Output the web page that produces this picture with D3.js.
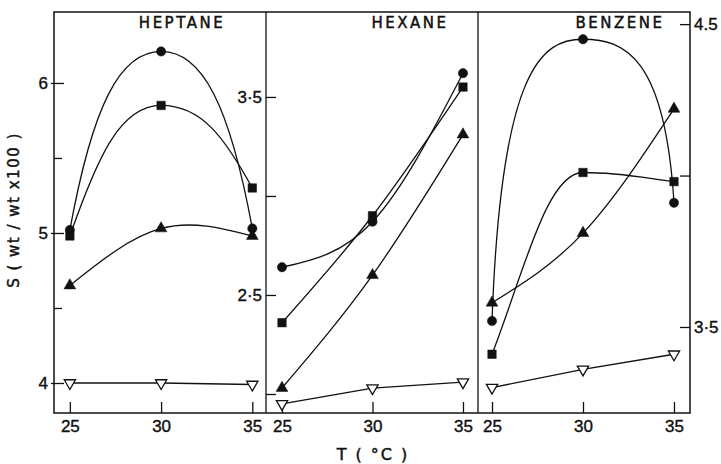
<!DOCTYPE html>
<html>
<head>
<meta charset="utf-8">
<script src="https://cdn.jsdelivr.net/npm/d3@7"></script>
<style>
  body { margin: 0; background: #fff; }
  svg { font-family: "DejaVu Sans", sans-serif; }
  .tick text { font-size: 17px; fill: #111; stroke: #111; stroke-width: 0.4; }
  .tick line { stroke: #111; stroke-width: 1.3; }
  .lbl { fill: #111; stroke: #111; stroke-width: 0.45; }
</style>
</head>
<body>
<svg width="721" height="464"></svg>
<script>
const svg = d3.select('svg');

// temperatures (°C)
const temps = [25, 30, 35];

// S (wt/wt x100)
const heptaneCircle = [5.02, 6.21, 5.03];
const heptaneSquare = [4.98, 5.85, 5.30];
const heptaneTriangle = [4.65, 5.03, 4.98];
const heptaneOpen = [4.00, 4.00, 3.99];

const hexaneCircle = [2.64, 2.87, 3.62];
const hexaneSquare = [2.36, 2.90, 3.55];
const hexaneTriangle = [2.03, 2.60, 3.31];
const hexaneOpen = [1.95, 2.03, 2.06];

const benzeneCircle = [3.52, 4.45, 3.91];
const benzeneSquare = [3.41, 4.01, 3.98];
const benzeneTriangle = [3.58, 3.81, 4.22];
const benzeneOpen = [3.30, 3.36, 3.41];

const xTicks = [25, 30, 35];

const plotTop = 12, plotBottom = 413;

// hand drawn looking curve: steep ends, flat at the extremum
function handCurve(a, b, flat) {
  return function(context) {
    let pts;
    function handle(i, dir, dx, dy) {
      const p = pts[i], n = pts.length;
      if (i === 0 || i === n - 1) return [p[0] + dir * dx * a, p[1] + dir * dy * b];
      const prev = pts[i - 1], next = pts[i + 1];
      if ((prev[1] - p[1]) * (next[1] - p[1]) > 0) return [p[0] + dir * Math.abs(dx) * flat, p[1]];
      return [p[0] + dir * (next[0] - prev[0]) / 6, p[1] + dir * (next[1] - prev[1]) / 6];
    }
    return {
      areaStart() {}, areaEnd() {},
      lineStart() { pts = []; },
      point(x, y) { pts.push([+x, +y]); },
      lineEnd() {
        if (!pts.length) return;
        context.moveTo(pts[0][0], pts[0][1]);
        for (let i = 0; i < pts.length - 1; i++) {
          const p = pts[i], q = pts[i + 1];
          const dx = q[0] - p[0], dy = q[1] - p[1];
          const c1 = handle(i, 1, dx, dy), c2 = handle(i + 1, -1, dx, dy);
          context.bezierCurveTo(c1[0], c1[1], c2[0], c2[1], q[0], q[1]);
        }
      }
    };
  };
}

const panels = [
  { name: 'HEPTANE', left: 54, right: 266, xdom: [24.13, 35.75], ydom: [3.8, 6.473], titleX: 182,
    series: [
      { v: heptaneCircle, m: 'circle', curve: handCurve(0.25, 0.7, 0.45) },
      { v: heptaneSquare, m: 'square', curve: handCurve(0.3, 0.6, 0.45) },
      { v: heptaneTriangle, m: 'triangle', curve: d3.curveNatural },
      { v: heptaneOpen, m: 'open', curve: d3.curveLinear }
    ] },
  { name: 'HEXANE', left: 266, right: 478, xdom: [24.116, 35.83], ydom: [1.904, 3.929], titleX: 410,
    series: [
      { v: hexaneCircle, m: 'circle', curve: d3.curveNatural },
      { v: hexaneSquare, m: 'square', curve: d3.curveNatural },
      { v: hexaneTriangle, m: 'triangle', curve: d3.curveNatural },
      { v: hexaneOpen, m: 'open', curve: d3.curveLinear }
    ] },
  { name: 'BENZENE', left: 478, right: 690, xdom: [24.23, 35.88], ydom: [3.216, 4.54], titleX: 620,
    series: [
      { v: benzeneCircle, m: 'circle', curve: handCurve(0.1, 0.9, 0.45) },
      { v: benzeneSquare, m: 'square', curve: handCurve(0.35, 0.45, 0.4) },
      { v: benzeneTriangle, m: 'triangle', curve: d3.curveNatural },
      { v: benzeneOpen, m: 'open', curve: d3.curveLinear }
    ] }
];

const symbols = {
  circle: d3.symbol().type(d3.symbolCircle).size(68),
  square: d3.symbol().type(d3.symbolSquare).size(72),
  triangle: d3.symbol().type(d3.symbolTriangle).size(60),
  open: d3.symbol().type(d3.symbolTriangle).size(55)
};

panels.forEach(p => {
  p.x = d3.scaleLinear().domain(p.xdom).range([p.left, p.right]);
  p.y = d3.scaleLinear().domain(p.ydom).range([plotBottom, plotTop]);

  // x ticks pointing inward
  const ax = svg.append('g')
    .attr('transform', `translate(0,${plotBottom})`)
    .call(d3.axisBottom(p.x).tickValues(xTicks).tickFormat(d3.format('d'))
      .tickSizeInner(-11).tickSizeOuter(0).tickPadding(7));
  ax.select('.domain').remove();

  const g = svg.append('g');
  p.series.forEach(s => {
    const line = d3.line()
      .x((d, i) => p.x(temps[i]))
      .y(d => p.y(d))
      .curve(s.curve);
    g.append('path')
      .attr('d', line(s.v))
      .attr('fill', 'none')
      .attr('stroke', '#111')
      .attr('stroke-width', 1.3);
  });
  p.series.forEach(s => {
    g.selectAll(null)
      .data(s.v)
      .enter().append('path')
      .attr('d', symbols[s.m])
      .attr('transform', (d, i) => `translate(${p.x(temps[i])},${p.y(d)})` + (s.m === 'open' ? ' rotate(180)' : ''))
      .attr('fill', s.m === 'open' ? '#fff' : '#111')
      .attr('stroke', '#111')
      .attr('stroke-width', s.m === 'open' ? 1.3 : 0.5);
  });

  svg.append('text')
    .attr('class', 'lbl')
    .attr('x', p.titleX).attr('y', 28)
    .attr('text-anchor', 'middle')
    .style('font-size', '15px')
    .style('letter-spacing', '2.5px')
    .text(p.name);
});

// heptane axis on the left, ticks cross the line
const hep = panels[0], hex = panels[1], ben = panels[2];
const ayHep = svg.append('g')
  .attr('transform', `translate(${hep.left},0)`)
  .call(d3.axisLeft(hep.y).tickValues([4, 5, 6]).tickFormat(d3.format('d'))
    .tickSizeInner(-10).tickSizeOuter(0).tickPadding(6));
ayHep.selectAll('.tick line').attr('x1', -3);
ayHep.select('.domain').remove();
svg.append('g')
  .attr('transform', `translate(${hep.left},0)`)
  .call(d3.axisLeft(hep.y).tickValues([4.5, 5.5]).tickFormat('')
    .tickSizeInner(-8).tickSizeOuter(0))
  .select('.domain').remove();

// hexane axis on the divider, labels to its left
svg.append('g')
  .attr('transform', `translate(${hex.left},0)`)
  .call(d3.axisLeft(hex.y).tickValues([2, 2.5, 3, 3.5])
    .tickFormat(d => d === 3.5 ? '3·5' : d === 2.5 ? '2·5' : '')
    .tickSizeInner(-10).tickSizeOuter(0).tickPadding(4))
  .select('.domain').remove();

// benzene axis on the right
svg.append('g')
  .attr('transform', `translate(${ben.right},0)`)
  .call(d3.axisRight(ben.y).tickValues([3.5, 4, 4.5])
    .tickFormat(d => d === 4.5 ? '4.5' : d === 3.5 ? '3·5' : '')
    .tickSizeInner(-10).tickSizeOuter(0).tickPadding(4))
  .select('.domain').remove();

// frame and dividers
svg.append('rect')
  .attr('x', hep.left).attr('y', plotTop)
  .attr('width', ben.right - hep.left).attr('height', plotBottom - plotTop)
  .attr('fill', 'none').attr('stroke', '#111').attr('stroke-width', 1.5);
[hex.left, ben.left].forEach(xv => {
  svg.append('line')
    .attr('x1', xv).attr('x2', xv).attr('y1', plotTop).attr('y2', plotBottom)
    .attr('stroke', '#111').attr('stroke-width', 1.3);
});

svg.append('text')
  .attr('class', 'lbl')
  .attr('transform', 'translate(19,210) rotate(-90)')
  .attr('text-anchor', 'middle')
  .style('font-size', '15px')
  .style('letter-spacing', '1.5px')
  .text('S ( wt / wt x100 )');

svg.append('text')
  .attr('class', 'lbl')
  .attr('x', 373).attr('y', 460)
  .attr('text-anchor', 'middle')
  .style('font-size', '16px')
  .style('letter-spacing', '2px')
  .text('T ( °C )');
</script>
</body>
</html>
